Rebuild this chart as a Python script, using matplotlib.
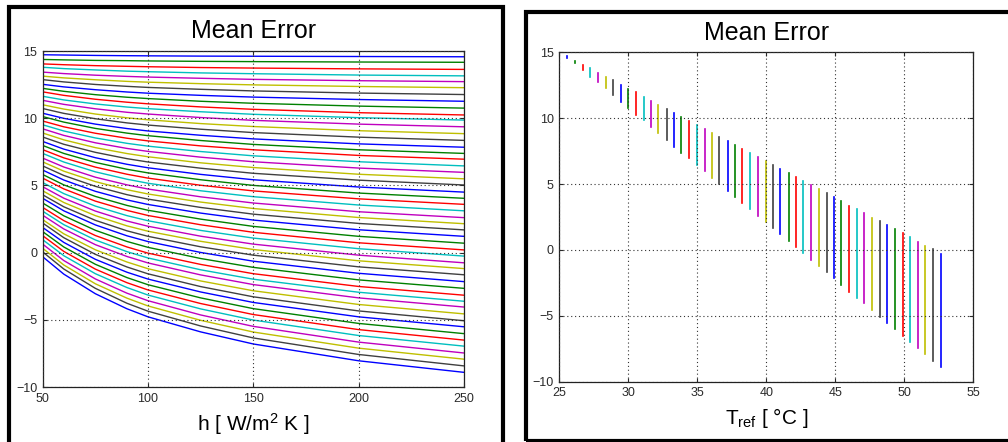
import matplotlib
matplotlib.use("Agg")
import matplotlib.pyplot as plt
from matplotlib.patches import Rectangle

plt.rcParams['font.family'] = ['Liberation Sans', 'DejaVu Sans']
plt.rcParams['mathtext.fontset'] = 'custom'
plt.rcParams['mathtext.rm'] = 'Liberation Sans'
plt.rcParams['mathtext.it'] = 'Liberation Sans'

# ---- data ----
h_values = [50, 60, 75, 90, 100, 125, 150, 200, 250]

mean_error_vs_h = [
    [14.72, 14.70, 14.67, 14.65, 14.64, 14.62, 14.61, 14.59, 14.57],
    [14.37, 14.34, 14.30, 14.28, 14.26, 14.23, 14.21, 14.18, 14.16],
    [14.04, 13.98, 13.91, 13.86, 13.83, 13.77, 13.73, 13.67, 13.63],
    [13.79, 13.69, 13.59, 13.50, 13.46, 13.37, 13.31, 13.21, 13.15],
    [13.43, 13.32, 13.20, 13.11, 13.06, 12.97, 12.89, 12.79, 12.72],
    [13.13, 13.00, 12.86, 12.74, 12.68, 12.57, 12.48, 12.36, 12.27],
    [12.87, 12.70, 12.51, 12.37, 12.29, 12.15, 12.03, 11.87, 11.76],
    [12.52, 12.33, 12.12, 11.95, 11.86, 11.70, 11.57, 11.39, 11.26],
    [12.22, 12.00, 11.75, 11.56, 11.46, 11.26, 11.11, 10.90, 10.75],
    [11.96, 11.70, 11.41, 11.19, 11.07, 10.84, 10.66, 10.41, 10.24],
    [11.63, 11.36, 11.06, 10.83, 10.71, 10.48, 10.29, 10.04, 9.86],
    [11.33, 11.03, 10.70, 10.44, 10.31, 10.05, 9.84, 9.56, 9.36],
    [11.00, 10.68, 10.31, 10.03, 9.88, 9.60, 9.38, 9.07, 8.85],
    [10.72, 10.36, 9.96, 9.65, 9.49, 9.18, 8.93, 8.59, 8.35],
    [10.37, 9.99, 9.56, 9.23, 9.05, 8.73, 8.46, 8.09, 7.84],
    [10.12, 9.71, 9.24, 8.89, 8.70, 8.34, 8.05, 7.65, 7.38],
    [9.79, 9.36, 8.88, 8.51, 8.31, 7.94, 7.65, 7.23, 6.95],
    [9.51, 9.05, 8.53, 8.13, 7.92, 7.52, 7.20, 6.76, 6.45],
    [9.21, 8.72, 8.17, 7.75, 7.53, 7.10, 6.76, 6.29, 5.97],
    [8.90, 8.39, 7.81, 7.37, 7.13, 6.68, 6.33, 5.83, 5.49],
    [8.60, 8.06, 7.46, 6.99, 6.74, 6.28, 5.90, 5.39, 5.03],
    [8.27, 7.70, 7.06, 6.57, 6.31, 5.82, 5.42, 4.88, 4.50],
    [7.97, 7.38, 6.71, 6.20, 5.93, 5.42, 5.00, 4.43, 4.04],
    [7.66, 7.05, 6.36, 5.83, 5.54, 5.01, 4.59, 4.00, 3.59],
    [7.38, 6.74, 6.01, 5.46, 5.16, 4.60, 4.16, 3.54, 3.11],
    [7.03, 6.37, 5.61, 5.04, 4.73, 4.15, 3.69, 3.04, 2.60],
    [6.75, 6.06, 5.28, 4.68, 4.36, 3.76, 3.28, 2.61, 2.15],
    [6.45, 5.74, 4.93, 4.31, 3.98, 3.36, 2.86, 2.17, 1.69],
    [6.14, 5.40, 4.56, 3.92, 3.58, 2.94, 2.42, 1.70, 1.21],
    [5.81, 5.04, 4.18, 3.51, 3.15, 2.49, 1.95, 1.21, 0.70],
    [5.54, 4.74, 3.83, 3.14, 2.76, 2.07, 1.51, 0.73, 0.20],
    [5.21, 4.39, 3.46, 2.75, 2.37, 1.65, 1.08, 0.29, -0.26],
    [4.90, 4.05, 3.09, 2.35, 1.96, 1.22, 0.63, -0.19, -0.76],
    [4.60, 3.73, 2.75, 1.99, 1.59, 0.84, 0.23, -0.61, -1.19],
    [4.30, 3.41, 2.40, 1.62, 1.21, 0.43, -0.19, -1.06, -1.65],
    [4.04, 3.11, 2.06, 1.25, 0.82, 0.01, -0.64, -1.54, -2.16],
    [3.69, 2.74, 1.66, 0.83, 0.39, -0.44, -1.10, -2.03, -2.66],
    [3.36, 2.38, 1.27, 0.42, -0.04, -0.88, -1.57, -2.52, -3.17],
    [3.08, 2.08, 0.94, 0.07, -0.40, -1.28, -1.98, -2.95, -3.62],
    [2.78, 1.76, 0.59, -0.29, -0.77, -1.66, -2.38, -3.37, -4.05],
    [2.45, 1.40, 0.21, -0.70, -1.20, -2.11, -2.84, -3.86, -4.56],
    [2.20, 1.11, -0.13, -1.07, -1.58, -2.53, -3.29, -4.34, -5.07],
    [1.87, 0.76, -0.50, -1.46, -1.97, -2.93, -3.71, -4.78, -5.52],
    [1.56, 0.42, -0.87, -1.86, -2.39, -3.37, -4.17, -5.27, -6.03],
    [1.26, 0.09, -1.23, -2.24, -2.78, -3.79, -4.61, -5.73, -6.51],
    [0.96, -0.23, -1.57, -2.60, -3.16, -4.19, -5.02, -6.17, -6.96],
    [0.63, -0.59, -1.96, -3.02, -3.58, -4.64, -5.49, -6.66, -7.47],
    [0.32, -0.92, -2.32, -3.39, -3.97, -5.04, -5.91, -7.11, -7.93],
    [0.05, -1.22, -2.66, -3.77, -4.36, -5.46, -6.35, -7.58, -8.43],
    [-0.31, -1.60, -3.06, -4.18, -4.78, -5.90, -6.80, -8.05, -8.91],
]

t_ref = [25.56, 26.16, 26.69, 27.22, 27.78, 28.36, 28.91, 29.44, 29.98, 30.58,
         31.11, 31.64, 32.17, 32.78, 33.31, 33.84, 34.40, 35.00, 35.53, 36.06,
         36.59, 37.20, 37.73, 38.26, 38.82, 39.40, 39.95, 40.48, 41.01, 41.62,
         42.15, 42.68, 43.24, 43.84, 44.37, 44.93, 45.43, 46.01, 46.57, 47.10,
         47.63, 48.24, 48.77, 49.30, 49.88, 50.41, 50.99, 51.52, 52.08, 52.66]

left_xticks = [50, 100, 150, 200, 250]
right_xticks = [25, 30, 35, 40, 45, 50, 55]
yticks = [-10, -5, 0, 5, 10, 15]

matlab_colors = [(0, 0, 1), (0, 0.5, 0), (1, 0, 0), (0, 0.75, 0.75),
                 (0.75, 0, 0.75), (0.75, 0.75, 0), (0.25, 0.25, 0.25)]

W, H = 1008, 442
fig = plt.figure(figsize=(W / 100, H / 100), dpi=100)
fig.patch.set_facecolor('white')

def fx(px):
    return px / W

def fy(py):
    return 1 - py / H

# thick figure frames
fig.add_artist(Rectangle((fx(9), fy(470)), fx(503) - fx(9), fy(7) - fy(470),
                         transform=fig.transFigure, fill=False, lw=3.0,
                         edgecolor='black'))
fig.add_artist(Rectangle((fx(526), fy(440.5)), fx(1030) - fx(526), fy(12) - fy(440.5),
                         transform=fig.transFigure, fill=False, lw=3.0,
                         edgecolor='black'))

ax1 = fig.add_axes([fx(42.7), fy(387), fx(464) - fx(42.7), fy(51) - fy(387)])
ax2 = fig.add_axes([fx(559.3), fy(381.7), fx(973.3) - fx(559.3), fy(52.3) - fy(381.7)])

def style(ax, xt):
    ax.set_xticks(xt)
    ax.set_yticks(yticks)
    ax.set_ylim(-10, 15)
    ax.set_xlim(xt[0], xt[-1])
    ax.tick_params(direction='in', length=3, width=0.8, top=True, right=True,
                   labelsize=9, colors='#2a2a2a', pad=4)
    for s in ax.spines.values():
        s.set_linewidth(0.9)
        s.set_color('#222222')
    ax.grid(True, color='#333333', linestyle=(0, (1, 2.5)), linewidth=0.8)
    ax.set_axisbelow(False)
    ax.set_title('Mean Error', fontsize=18, pad=9)

for i, row in enumerate(mean_error_vs_h):
    ax1.plot(h_values, row, color=matlab_colors[i % 7], lw=1.0, zorder=1.5)
style(ax1, left_xticks)
ax1.set_xlabel(r'h [ W/m$^{2}$ K ]', fontsize=15, labelpad=5)

for i, row in enumerate(mean_error_vs_h):
    ax2.plot([t_ref[i], t_ref[i]], [row[0], row[-1]], color=matlab_colors[i % 7],
             lw=1.2, zorder=1.5)
style(ax2, right_xticks)
ax2.set_xlabel(r'T$_{\rm ref}$ [ °C ]', fontsize=15, labelpad=5)

fig.savefig('out.png', dpi=100)
